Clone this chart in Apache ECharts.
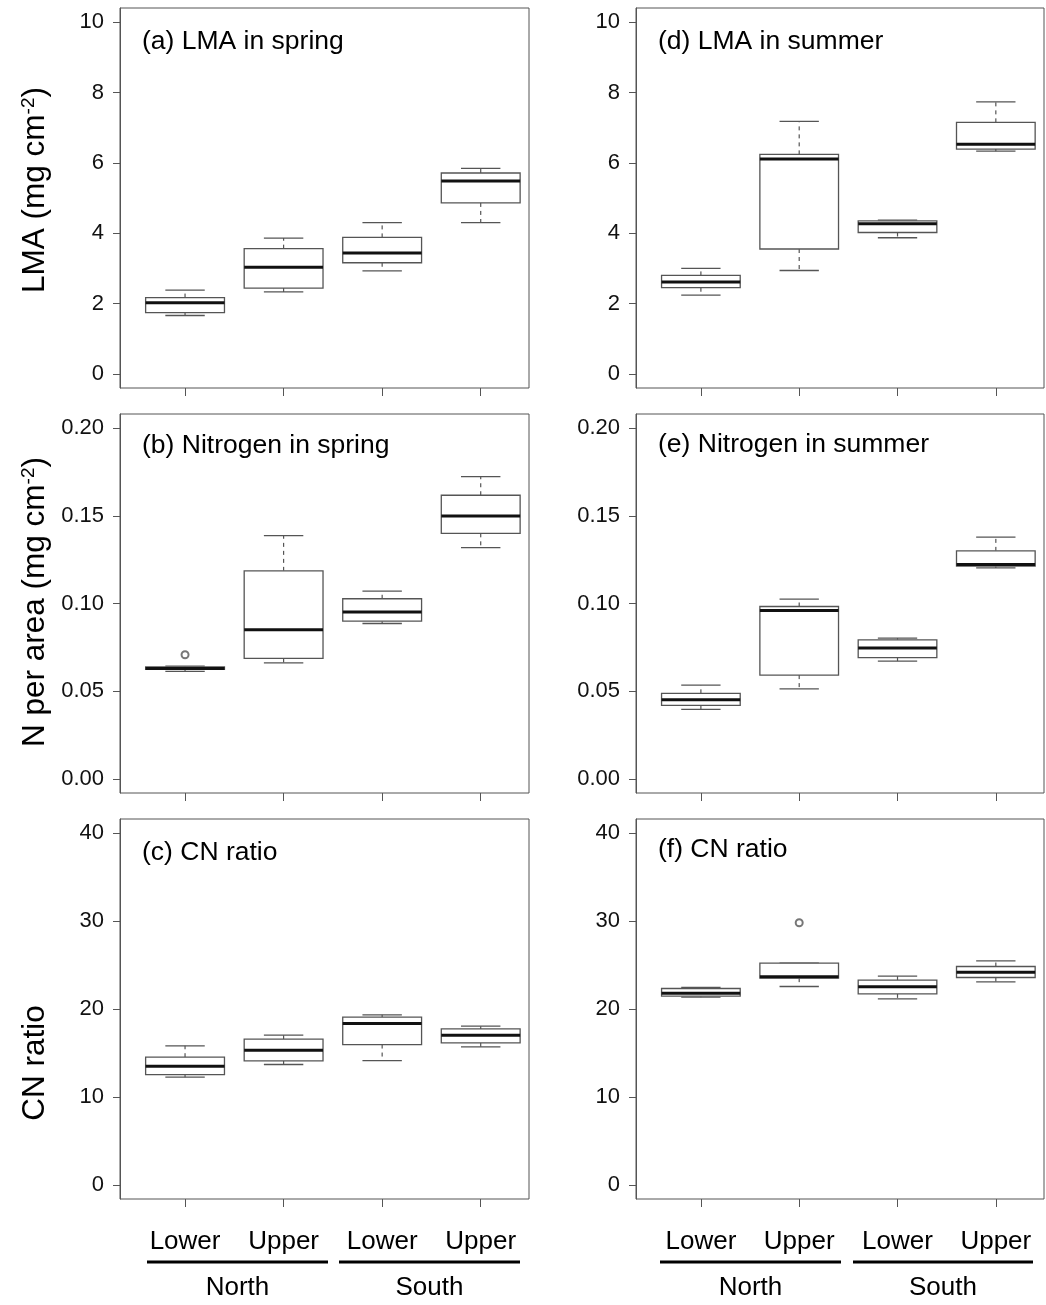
<!DOCTYPE html>
<html>
<head>
<meta charset="utf-8">
<script src="https://cdn.jsdelivr.net/npm/echarts@6/dist/echarts.min.js"></script>
<style>
  html, body { margin: 0; padding: 0; background: #fff; }
  #main { width: 1046px; height: 1305px; }
</style>
</head>
<body>
<div id="main"></div>
<script>
// categories
var groups = ['Lower', 'Upper', 'Lower', 'Upper'];
var regions = ['North', 'South'];

// boxes: [lower whisker, Q1, median, Q3, upper whisker] for each group
var lmaSpring = [[1.66, 1.74, 2.02, 2.17, 2.38], [2.33, 2.44, 3.03, 3.56, 3.86], [2.93, 3.16, 3.44, 3.88, 4.30], [4.30, 4.86, 5.48, 5.71, 5.84]];
var lmaSummer = [[2.24, 2.45, 2.61, 2.80, 3.00], [2.94, 3.55, 6.11, 6.24, 7.18], [3.87, 4.02, 4.27, 4.35, 4.37], [6.33, 6.39, 6.53, 7.15, 7.73]];
var nSpring = [[0.0613, 0.0624, 0.0630, 0.0639, 0.0643], [0.0662, 0.0687, 0.0850, 0.1186, 0.1387], [0.0886, 0.0899, 0.0951, 0.1027, 0.1070], [0.1319, 0.1400, 0.1499, 0.1617, 0.1723]];
var nSummer = [[0.0397, 0.0419, 0.0452, 0.0488, 0.0535], [0.0514, 0.0592, 0.0960, 0.0983, 0.1025], [0.0672, 0.0691, 0.0746, 0.0793, 0.0803], [0.1203, 0.1213, 0.1222, 0.1300, 0.1378]];
var cnSpring = [[12.25, 12.55, 13.50, 14.52, 15.81], [13.69, 14.10, 15.32, 16.57, 17.02], [14.14, 15.96, 18.35, 19.07, 19.34], [15.70, 16.15, 17.02, 17.74, 18.05]];
var cnSummer = [[21.35, 21.46, 21.80, 22.33, 22.45], [22.56, 23.51, 23.66, 25.21, 25.21], [21.16, 21.72, 22.52, 23.28, 23.73], [23.09, 23.58, 24.19, 24.83, 25.48]];

// outliers: [group number, value]
var nSpringOut = [[1, 0.0708]];
var cnSummerOut = [[2, 29.8]];

// tick labels
var lmaTicks = [0, 2, 4, 6, 8, 10];
var nTicks = [0, 0.05, 0.10, 0.15, 0.20];
var cnTicks = [0, 10, 20, 30, 40];
var groupTicks = [1, 2, 3, 4];

var FONT = 'Liberation Sans, Arial, Helvetica, sans-serif';
var LINE = '#555';

var panels = [
  { title: '(a) LMA in spring', boxes: lmaSpring, out: [], ticks: lmaTicks, min: -0.4, max: 10.4, dec: 0, col: 0, row: 0, ty: 40 },
  { title: '(b) Nitrogen in spring', boxes: nSpring, out: nSpringOut, ticks: nTicks, min: -0.008, max: 0.208, dec: 2, col: 0, row: 1, ty: 444 },
  { title: '(c) CN ratio', boxes: cnSpring, out: [], ticks: cnTicks, min: -1.6, max: 41.6, dec: 0, col: 0, row: 2, ty: 851 },
  { title: '(d) LMA in summer', boxes: lmaSummer, out: [], ticks: lmaTicks, min: -0.4, max: 10.4, dec: 0, col: 1, row: 0, ty: 40 },
  { title: '(e) Nitrogen in summer', boxes: nSummer, out: [], ticks: nTicks, min: -0.008, max: 0.208, dec: 2, col: 1, row: 1, ty: 443 },
  { title: '(f) CN ratio', boxes: cnSummer, out: cnSummerOut, ticks: cnTicks, min: -1.6, max: 41.6, dec: 0, col: 1, row: 2, ty: 848 }
];

var colLeft = [120, 636];
var colWidth = [409, 408];
var rowTop = [8, 414, 819];
var rowHeight = [380, 379, 380];

function renderBox(params, api) {
  var x = api.value(0);
  var lo = api.coord([x, api.value(1)]);
  var q1 = api.coord([x, api.value(2)]);
  var med = api.coord([x, api.value(3)]);
  var q3 = api.coord([x, api.value(4)]);
  var hi = api.coord([x, api.value(5)]);
  var w = api.size([0.8, 0])[0];
  var cx = lo[0];
  var thin = { stroke: LINE, lineWidth: 1.3, fill: null };
  var dash = { stroke: LINE, lineWidth: 1.2, lineDash: [4, 4] };
  return {
    type: 'group',
    children: [
      { type: 'line', shape: { x1: cx, y1: q3[1], x2: cx, y2: hi[1] }, style: dash },
      { type: 'line', shape: { x1: cx, y1: q1[1], x2: cx, y2: lo[1] }, style: dash },
      { type: 'line', shape: { x1: cx - w / 4, y1: hi[1], x2: cx + w / 4, y2: hi[1] }, style: thin },
      { type: 'line', shape: { x1: cx - w / 4, y1: lo[1], x2: cx + w / 4, y2: lo[1] }, style: thin },
      { type: 'rect', shape: { x: cx - w / 2, y: q3[1], width: w, height: q1[1] - q3[1] }, style: { stroke: LINE, lineWidth: 1.3, fill: '#fff' } },
      { type: 'line', shape: { x1: cx - w / 2, y1: med[1], x2: cx + w / 2, y2: med[1] }, style: { stroke: '#111', lineWidth: 3 } }
    ]
  };
}

var grids = [], xAxes = [], yAxes = [], series = [], graphics = [];

panels.forEach(function (p, i) {
  var bottom = p.row === 2;
  grids.push({
    left: colLeft[p.col], top: rowTop[p.row], width: colWidth[p.col], height: rowHeight[p.row],
    show: true, borderColor: LINE, borderWidth: 1, backgroundColor: 'transparent'
  });
  xAxes.push({
    type: 'value', gridIndex: i, min: 0.34, max: 4.49, position: 'bottom',
    axisLine: { show: false, onZero: false }, splitLine: { show: false },
    axisTick: { show: true, customValues: groupTicks, length: 8, lineStyle: { color: LINE } },
    axisLabel: {
      show: bottom, customValues: groupTicks, margin: 30, color: '#000',
      fontSize: 26, fontFamily: FONT,
      formatter: function (v) { return groups[Math.round(v) - 1]; }
    }
  });
  yAxes.push({
    type: 'value', gridIndex: i, min: p.min, max: p.max, position: 'left',
    axisLine: { show: true, onZero: false, lineStyle: { color: LINE } }, splitLine: { show: false },
    axisTick: { show: true, customValues: p.ticks, length: 7, lineStyle: { color: LINE } },
    axisLabel: {
      customValues: p.ticks, margin: 16, color: '#111', fontSize: 22, fontFamily: FONT,
      formatter: function (v) { return v.toFixed(p.dec); }
    }
  });
  series.push({
    type: 'custom', xAxisIndex: i, yAxisIndex: i, renderItem: renderBox,
    encode: { x: 0, y: [1, 2, 3, 4, 5] },
    data: p.boxes.map(function (b, k) { return [groupTicks[k]].concat(b); }),
    silent: true
  });
  if (p.out.length) {
    series.push({
      type: 'scatter', xAxisIndex: i, yAxisIndex: i, data: p.out,
      symbol: 'emptyCircle', symbolSize: 7, z: 5,
      itemStyle: { color: LINE, borderColor: LINE, borderWidth: 1.3 }, silent: true
    });
  }
  graphics.push({
    type: 'text', left: colLeft[p.col] + 22, top: p.ty - 12,
    style: { text: p.title, fontSize: 26.5, fontFamily: FONT, fill: '#000' }
  });
});

// y-axis titles
var yTitles = [
  { text: '{a|LMA (mg cm}{s|-2}{a|)}', y: 190 },
  { text: '{a|N per area (mg cm}{s|-2}{a|)}', y: 602 },
  { text: '{a|CN ratio}', y: 1063 }
];
yTitles.forEach(function (t) {
  graphics.push({
    type: 'text', x: 35, y: t.y, rotation: Math.PI / 2,
    style: {
      text: t.text, align: 'center', verticalAlign: 'middle',
      rich: {
        a: { fontSize: 31.5, fontFamily: FONT, fill: '#000' },
        s: { fontSize: 19, fontFamily: FONT, fill: '#000', verticalAlign: 'top' }
      }
    }
  });
});

// group underlines and region names
var regionLines = [[147, 328], [339, 520], [660, 841], [853, 1033]];
regionLines.forEach(function (l, k) {
  graphics.push({
    type: 'line', shape: { x1: l[0], y1: 1262, x2: l[1], y2: 1262 },
    style: { stroke: '#000', lineWidth: 3 }
  });
  graphics.push({
    type: 'text', x: (l[0] + l[1]) / 2, y: 1288,
    style: { text: regions[k % 2], align: 'center', verticalAlign: 'middle', fontSize: 26, fontFamily: FONT, fill: '#000' }
  });
});

var chart = echarts.init(document.getElementById('main'));
chart.setOption({
  backgroundColor: '#fff',
  animation: false,
  grid: grids,
  xAxis: xAxes,
  yAxis: yAxes,
  series: series,
  graphic: graphics
});
</script>
</body>
</html>
